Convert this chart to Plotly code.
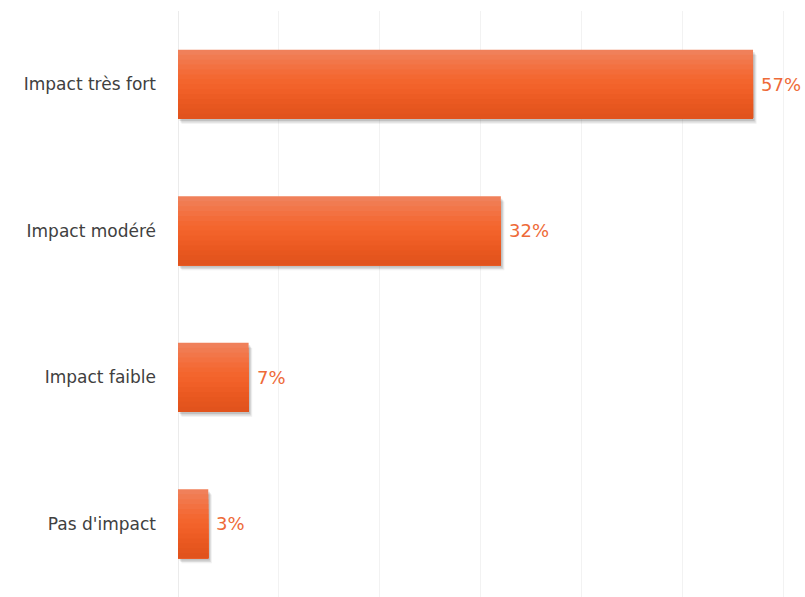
import plotly.graph_objects as go

# Survey results: perceived impact
categories = ["Impact très fort", "Impact modéré", "Impact faible", "Pas d'impact"]
values = [57, 32, 7, 3]
value_labels = ["57%", "32%", "7%", "3%"]

# Vertical gradient for the bars, light at the top, darker at the bottom
gradient = [
    (240, 128, 90), (241, 123, 81), (242, 118, 73), (243, 113, 65),
    (243, 108, 57), (243, 104, 50), (243, 101, 45), (242, 98, 42),
    (240, 95, 39), (237, 92, 36), (234, 89, 33), (231, 87, 31),
    (228, 85, 30), (225, 83, 29),
]

BAR_W = 0.47
fig = go.Figure()

# soft drop shadow (stacked translucent layers)
for k, (dy, alpha) in enumerate([(0.035, 0.08), (0.026, 0.12), (0.016, 0.15)]):
    fig.add_trace(go.Bar(
        y=categories, x=values, orientation="h",
        base=0.35 - k * 0.1, width=BAR_W, offset=-BAR_W / 2 + dy,
        marker=dict(color=f"rgba(60,60,60,{alpha})", line=dict(width=0)),
        hoverinfo="skip", showlegend=False,
    ))

# gradient: each layer runs from its start down to the bar's lower edge,
# later (darker) layers overlap the earlier ones
n = len(gradient)
sw = BAR_W / n
for i, (r, g, b) in enumerate(gradient):
    fig.add_trace(go.Bar(
        y=categories, x=values, orientation="h",
        width=BAR_W - i * sw, offset=-BAR_W / 2 + i * sw,
        marker=dict(color=f"rgb({r},{g},{b})", line=dict(width=0)),
        hoverinfo="skip", showlegend=False,
    ))

# value labels to the right of each bar
for cat, v, lab in zip(categories, values, value_labels):
    fig.add_annotation(
        x=v, y=cat, text=lab, showarrow=False,
        xanchor="left", yanchor="middle", xshift=6,
        font=dict(family="DejaVu Sans, sans-serif", size=18, color="#EE6A38"),
    )

fig.update_layout(
    width=805, height=597,
    margin=dict(l=178, r=0, t=11, b=0),
    plot_bgcolor="white", paper_bgcolor="white",
    barmode="overlay",
    xaxis=dict(range=[0, 62.15], dtick=10, showticklabels=False,
               showgrid=True, gridcolor="#F2F2F2", gridwidth=1,
               zeroline=True, zerolinecolor="#EBEBEB", zerolinewidth=1),
    yaxis=dict(autorange="reversed", showgrid=False, ticks="",
               ticklabelstandoff=21,
               tickfont=dict(family="DejaVu Sans, sans-serif", size=17, color="#404040")),
)

fig.write_html("out.html")
